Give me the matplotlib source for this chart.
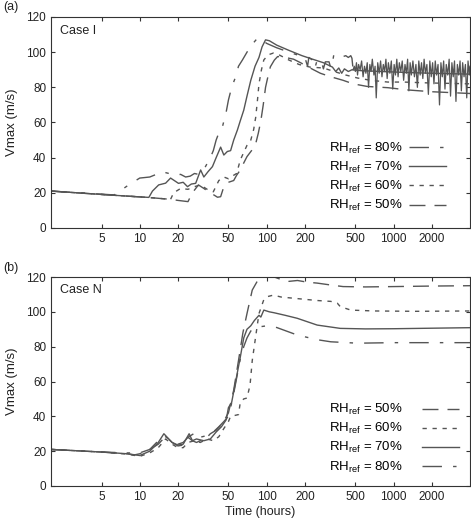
import matplotlib
matplotlib.use("Agg")
import matplotlib.pyplot as plt
from matplotlib.ticker import FixedLocator, FixedFormatter, NullLocator

plt.rcParams["font.family"] = ["Liberation Sans", "DejaVu Sans"]
plt.rcParams["mathtext.fontset"] = "custom"
plt.rcParams["mathtext.rm"] = "Liberation Sans"
plt.rcParams["mathtext.it"] = "Liberation Sans:italic"

LINE = "#555555"
AXC = "#333333"

# --------------------------------------------------
# DATA (time in hours, Vmax in m/s)
# --------------------------------------------------
x_ticks = [5, 10, 20, 50, 100, 200, 500, 1000, 2000]
x_tick_labels = ["5", "10", "20", "50", "100", "200", "500", "1000", "2000"]
y_ticks = [0, 20, 40, 60, 80, 100, 120]

# Case I
case_i_rh80 = [(2, 21), (4, 19.7), (6.3, 18.8), (8, 24), (10, 28.4), (12, 29), (13.5, 30.5),
               (15, 32), (17, 31), (19, 30), (21, 30.5), (23, 29), (25, 29.5), (27, 31),
               (29, 30.5), (31, 32), (33, 35), (36, 40), (38, 44), (40, 50), (43, 56),
               (45, 58), (48, 66), (50, 72.8), (53, 80), (57, 86), (60, 92), (64.5, 95.6),
               (70, 100), (76, 104), (84.5, 107.9), (90, 107.5), (100, 105), (120, 102.5),
               (150, 100), (200, 97), (210, 92), (215, 97), (230, 95.5), (240, 91),
               (250, 95.5), (270, 95), (280, 90.5), (290, 94.5), (310, 94.5), (320, 91),
               (330, 94), (338, 98.5), (360, 98), (380, 98.5), (400, 97.5), (420, 98),
               (440, 97), (460, 98), (470, 96.5), (480, 90)]
case_i_rh80_tail = [(480, 90), (490, 92), (500, 89), (510, 94), (520, 87), (530, 93), (545, 90),
                    (560, 95), (575, 86), (590, 92), (605, 88), (620, 94), (635, 80), (650, 93),
                    (665, 89), (680, 96), (700, 87), (715, 92), (730, 74), (750, 94), (770, 88),
                    (790, 95), (810, 86), (830, 93), (850, 89), (870, 96), (890, 85), (910, 94),
                    (935, 88), (960, 95), (985, 79), (1010, 93), (1035, 87), (1060, 96),
                    (1085, 86), (1110, 94), (1140, 89), (1170, 95), (1200, 84), (1230, 93),
                    (1260, 88), (1290, 96), (1320, 78), (1350, 94), (1380, 87), (1420, 95),
                    (1460, 86), (1500, 93), (1540, 80), (1580, 95), (1620, 87), (1660, 94),
                    (1700, 85), (1740, 96), (1780, 88), (1830, 93), (1880, 76), (1930, 95),
                    (1980, 86), (2030, 94), (2080, 82), (2130, 95), (2180, 87), (2240, 93),
                    (2300, 70), (2360, 94), (2420, 86), (2480, 95), (2540, 79), (2600, 93),
                    (2670, 87), (2740, 96), (2810, 75), (2880, 94), (2950, 86), (3020, 95),
                    (3100, 72), (3180, 93), (3260, 87), (3340, 95), (3420, 78), (3500, 94),
                    (3590, 86), (3680, 93), (3770, 74), (3860, 95), (3950, 87), (4000, 92)]
case_i_rh70 = [(2, 21), (6, 18.7), (9, 17.9), (11.8, 17.4), (12.6, 21), (14.1, 24.5), (16, 25.5),
               (17.5, 28.4), (20.2, 25.4), (22, 26), (23.8, 23.5), (25.5, 25), (27.6, 25.4),
               (30.2, 33), (32, 29), (34.5, 32), (37.4, 34.9), (40, 40), (43.4, 46), (46, 41.5),
               (49, 43.5), (52, 44), (55, 50), (58.8, 55.7), (62, 61), (66, 67), (70, 75),
               (75, 84), (81, 92), (87, 97), (92, 103), (98, 107), (105, 106.5), (120, 104),
               (150, 101), (190, 98), (230, 96), (280, 94), (330, 91.5), (350, 89), (370, 91),
               (390, 88), (410, 90.5), (440, 89), (470, 90), (550, 89.5), (800, 89),
               (1200, 88.5), (2000, 88), (4000, 87.5)]
case_i_rh60 = [(2, 21), (6, 18.7), (9, 17.9), (12, 17.3), (17.5, 16.3), (18.5, 20), (21, 22.5),
               (24, 22), (27, 23.5), (30, 24.5), (34, 22), (38, 20.6), (42, 27), (46, 29),
               (50, 28), (55, 30), (58, 31), (62, 38.7), (66, 43), (70, 47), (75, 50), (79, 56),
               (82, 63), (85, 74), (87, 82), (91, 90), (95, 95.6), (103, 98.5), (113, 99.5),
               (125, 98.5), (150, 95.5), (180, 93), (220, 91.5), (280, 91), (340, 89),
               (420, 87), (520, 85.3), (660, 84), (900, 83), (1200, 83), (1900, 82.5), (4000, 82)]
case_i_rh50 = [(2, 21), (6, 18.7), (9, 17.9), (12, 17.3), (17.5, 16.3), (20, 15.7), (24, 15),
               (26, 20), (29, 24.5), (32, 22.5), (35, 20.5), (38, 19), (41, 17.5), (43.4, 17.8),
               (46, 23.5), (50, 26), (55, 27), (58, 30), (62, 33), (66, 37), (70, 40.6), (76, 44),
               (82, 48), (86, 54), (90, 61), (94, 70), (98, 80), (103, 87), (107, 91.7),
               (115, 95.5), (122, 97.5), (140, 97), (163, 96), (185, 94), (220, 91), (265, 88),
               (320, 86), (400, 84), (480, 82), (620, 80.5), (900, 79.8), (1300, 78.5),
               (2000, 77.5), (4000, 76.5)]

# Case N
case_n_rh50 = [(2, 21), (5, 19.5), (8, 18.5), (9, 17.8), (10, 18.5), (12, 21), (14, 24), (16, 28.5),
               (18, 25), (20, 23), (22, 23.5), (24, 28), (26, 26), (28, 25), (30, 26), (33, 27),
               (36, 30), (40, 32), (45, 36), (50, 42), (55, 55), (60, 72), (65, 88), (70, 99),
               (77, 112.5), (85, 118), (95, 120.3), (110, 120.5), (125, 119), (150, 117.5),
               (175, 118), (210, 117), (250, 116.5), (320, 115.4), (400, 114.5), (600, 114.3),
               (1000, 114.5), (2000, 114.8), (4000, 115)]
case_n_rh60 = [(2, 21), (5, 19.5), (8, 18.3), (10, 17), (12, 19), (14, 22), (16, 27), (18, 24),
               (20, 22), (22, 22), (24, 25), (27, 26), (30, 25), (34, 27), (38, 26), (42, 28.3),
               (46, 33), (50, 37), (52, 40), (56, 40.5), (60, 41), (62, 48), (66, 50), (70, 50.5),
               (74, 58), (77, 72), (82, 86), (87, 99), (95, 107), (101, 108.7), (113, 109.6),
               (130, 108.5), (180, 107.5), (250, 106.5), (320, 106), (360, 105), (380, 103),
               (460, 101), (700, 100.5), (1500, 100.3), (4000, 100.5)]
case_n_rh70 = [(2, 21), (5, 19.5), (8, 18.5), (10, 17.5), (12, 20), (14, 25), (15.5, 30), (18, 25),
               (20, 23.5), (22, 24), (24.5, 30), (26, 26), (28, 27), (32, 26), (36, 27), (40, 31),
               (44, 34), (48, 38), (50, 45), (53, 48), (57, 60), (62, 74), (66, 85), (70, 90),
               (75, 92), (80, 95), (87, 98), (90, 97), (95, 101), (105, 100), (114, 99.5),
               (140, 98), (174, 96.3), (250, 92.4), (380, 90.5), (600, 90.2), (1000, 90.3),
               (4000, 90.9)]
case_n_rh80 = [(2, 21), (5, 19.5), (8, 19), (10, 19), (12, 21), (14, 26), (15.5, 29), (18, 25.5),
               (20, 24), (22, 25), (24, 28), (28, 31), (30, 28), (34, 29), (38, 31), (42, 34),
               (46, 37), (50, 40), (54, 50), (58, 62), (62, 73), (66, 80), (70, 85), (75, 89),
               (80, 90.5), (90, 91.5), (101, 92), (120, 91), (174, 86.7), (250, 84), (320, 82.8),
               (520, 82), (1000, 82.3), (4000, 82.3)]

line_styles = {
    80: (0, (14, 8, 2.5, 8)),
    70: "-",
    60: (0, (3.1, 4.1)),
    50: (0, (11.5, 6.5)),
}


def rh_label(rh):
    return r"RH$_{\mathrm{ref}}$ = %d%%" % rh


def draw_series(ax, pts, rh, label=True, ls=None, lw=1.0):
    t = [p[0] for p in pts]
    v = [p[1] for p in pts]
    ax.plot(t, v, color=LINE, lw=lw, linestyle=ls or line_styles[rh],
            label=rh_label(rh) if label else None)


def style_axes(ax):
    ax.set_xscale("log")
    ax.set_xlim(2, 4000)
    ax.set_ylim(0, 120)
    ax.xaxis.set_major_locator(FixedLocator(x_ticks))
    ax.xaxis.set_major_formatter(FixedFormatter(x_tick_labels))
    ax.xaxis.set_minor_locator(NullLocator())
    ax.set_yticks(y_ticks)
    ax.tick_params(direction="in", top=True, right=True, length=3, width=0.8,
                   labelsize=8.5, pad=3.5, color=AXC, labelcolor="#222222")
    for sp in ax.spines.values():
        sp.set_color(AXC)
        sp.set_linewidth(0.8)


fig = plt.figure(figsize=(4.71, 5.24), dpi=100)
ax1 = fig.add_axes([51 / 471, 1 - 228 / 524, 419 / 471, 211 / 524])
ax2 = fig.add_axes([51 / 471, 1 - 486 / 524, 419 / 471, 209 / 524])

# --------------------------------------------------
# PANEL (a) CASE I
# --------------------------------------------------
draw_series(ax1, case_i_rh80, 80)
# the noisy late stage reads as a solid band in the original
draw_series(ax1, case_i_rh80_tail, 80, label=False, ls="-", lw=0.9)
draw_series(ax1, case_i_rh70, 70)
draw_series(ax1, case_i_rh60, 60)
draw_series(ax1, case_i_rh50, 50)
style_axes(ax1)
ax1.text(0.021, 0.934, "Case I", transform=ax1.transAxes, fontsize=9,
         ha="left", va="center", color="#222222")
ax1.legend(loc="lower right", bbox_to_anchor=(0.943, 0.07), frameon=False,
           markerfirst=False, fontsize=9.5, handlelength=2.8, handletextpad=0.5,
           labelspacing=0.3, borderpad=0, borderaxespad=0)

# --------------------------------------------------
# PANEL (b) CASE N
# --------------------------------------------------
draw_series(ax2, case_n_rh50, 50)
draw_series(ax2, case_n_rh60, 60)
draw_series(ax2, case_n_rh70, 70)
draw_series(ax2, case_n_rh80, 80)
style_axes(ax2)
ax2.text(0.021, 0.938, "Case N", transform=ax2.transAxes, fontsize=9,
         ha="left", va="center", color="#222222")
ax2.legend(loc="lower right", bbox_to_anchor=(0.974, 0.055), frameon=False,
           markerfirst=False, fontsize=9.5, handlelength=2.8, handletextpad=1.5,
           labelspacing=0.3, borderpad=0, borderaxespad=0)
ax2.set_xlabel("Time (hours)", fontsize=9, labelpad=2, color="#222222")

# y labels and panel letters
fig.text(12 / 471, 1 - 122 / 524, "Vmax (m/s)", rotation=90, fontsize=9.5,
         ha="center", va="center", color="#222222")
fig.text(12 / 471, 1 - 381 / 524, "Vmax (m/s)", rotation=90, fontsize=9.5,
         ha="center", va="center", color="#222222")
fig.text(3 / 471, 1 - 7 / 524, "(a)", fontsize=9, ha="left", va="center", color="#222222")
fig.text(3 / 471, 1 - 268 / 524, "(b)", fontsize=9, ha="left", va="center", color="#222222")

fig.savefig("out.png", dpi=100)
